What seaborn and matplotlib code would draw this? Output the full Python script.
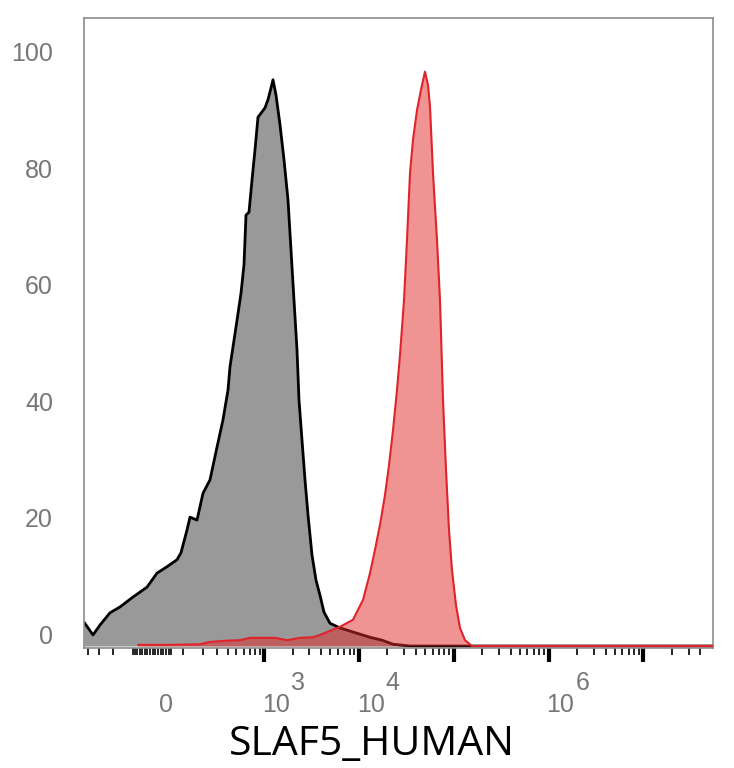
import numpy as np
import matplotlib
matplotlib.use('Agg')
import matplotlib.pyplot as plt
import seaborn as sns

# histograms: display channel (0-629) vs % of mode
ctrl_channel = [0, 9, 16, 26, 36, 49, 63, 73, 83, 93, 97, 103, 106, 113, 119, 126, 133, 139,
                144, 146, 152, 157, 160, 162, 165, 168, 171, 174, 178, 181, 184, 187, 189,
                192, 196, 200, 204, 207, 210, 213, 215, 218, 221, 224, 228, 232, 236, 240,
                246, 256, 269, 286, 298, 309, 326, 629]
ctrl_pct = [4.1, 1.9, 3.6, 5.7, 6.7, 8.4, 10.1, 12.5, 13.6, 14.8, 16.0, 19.9, 22.1, 21.6, 26.2,
            28.5, 34.1, 38.8, 43.9, 47.9, 54.7, 60.5, 65.4, 73.9, 74.4, 79.9, 85.1, 90.7, 91.6,
            92.3, 93.7, 95.7, 97.1, 94.5, 89.4, 83.4, 76.5, 67.9, 59.3, 50.8, 42.2, 35.3, 28.5,
            22.5, 15.6, 11.3, 8.7, 5.8, 3.9, 3.1, 2.4, 1.5, 1.0, 0.3, 0.0, 0.0]

slaf5_channel = [54, 86, 116, 126, 141, 156, 166, 191, 203, 216, 229, 236, 246, 256, 269, 279,
                 286, 291, 296, 301, 305, 309, 313, 316, 320, 323, 326, 329, 333, 337, 341, 344,
                 346, 349, 353, 356, 359, 362, 365, 368, 372, 376, 381, 388, 629]
slaf5_pct = [0.2, 0.2, 0.3, 0.7, 0.9, 1.0, 1.4, 1.4, 1.0, 1.4, 1.5, 1.9, 2.6, 3.3, 4.5, 7.9,
             12.5, 16.5, 20.8, 25.9, 31.0, 37.0, 43.9, 49.9, 59.3, 69.6, 81.1, 86.8, 91.9,
             95.4, 98.5, 96.2, 92.5, 81.1, 69.6, 59.3, 42.2, 30.2, 19.9, 13.0, 7.0, 3.1, 1.0,
             0.0, 0.0]

y_ticks = [0, 20, 40, 60, 80, 100]
major_vals = [1e3, 1e4, 1e5, 1e6, 1e7]
zero_vals = list(range(-100, 51, 10))
minor_vals = ([-400, -300, -200] + list(range(100, 1000, 100))
              + [m * 10 ** k for k in range(3, 7) for m in range(2, 10)]
              + [2e7, 3e7, 4e7])
x_labels = [(0, '0', ''), (1e3, '10', '3'), (1e4, '10', '4'), (1e6, '10', '6')]

# biexponential-like display (asinh)
C0, K, W = 74, 41.2, 153


def to_channel(v):
    return C0 + K * np.arcsinh(np.asarray(v, dtype=float) / W)


sns.set_style('white')
plt.rcParams['font.family'] = ['Liberation Sans', 'DejaVu Sans']

fig = plt.figure(figsize=(7.34, 7.68), dpi=100)
ax = fig.add_axes([84 / 734, 1 - 648 / 768, 629 / 734, 630 / 768])

ax.fill_between(ctrl_channel, ctrl_pct, color='#999999', lw=0, zorder=1)
sns.lineplot(x=ctrl_channel, y=ctrl_pct, color='black', lw=2.0, ax=ax, zorder=2)
ax.fill_between(slaf5_channel, slaf5_pct, color='#e02828', alpha=0.5, lw=0, zorder=3)
sns.lineplot(x=slaf5_channel, y=slaf5_pct, color='#e0232b', lw=1.5, ax=ax, zorder=4)

ax.set_xlim(0, 629)
ax.set_ylim(-0.34, 107.7)
ax.set_xlabel('')
ax.set_ylabel('')

for s in ax.spines.values():
    s.set_color('#8c8c8c')
    s.set_linewidth(1.2)

# x ticks
ax.set_xticks(to_channel(major_vals))
ax.set_xticks(np.concatenate([to_channel(minor_vals), to_channel(zero_vals)]), minor=True)
ax.tick_params(axis='x', which='major', direction='out', length=10, width=3,
               color='black', labelbottom=False, bottom=True)
ax.tick_params(axis='x', which='minor', direction='out', length=5, width=1.2,
               color='black', bottom=True)
ax.set_yticks([])
ax.tick_params(axis='y', left=False)

for v, base, exp in x_labels:
    pos = float(to_channel(v))
    if exp:
        ax.annotate(base, xy=(pos, 0), xycoords=('data', 'axes fraction'), xytext=(12, -57),
                    textcoords='offset pixels', ha='center', va='center', fontsize=18,
                    color='#777777')
        ax.annotate(exp, xy=(pos, 0), xycoords=('data', 'axes fraction'), xytext=(34, -35),
                    textcoords='offset pixels', ha='center', va='center', fontsize=18,
                    color='#777777')
    else:
        ax.annotate(base, xy=(pos, 0), xycoords=('data', 'axes fraction'), xytext=(8, -57),
                    textcoords='offset pixels', ha='center', va='center', fontsize=18,
                    color='#777777')

for v in y_ticks:
    ax.annotate(str(v), xy=(0, v), xycoords=('axes fraction', 'data'), xytext=(-31, 9),
                textcoords='offset pixels', ha='right', va='center', fontsize=18,
                color='#777777')

fig.text(372 / 734, 1 - 745 / 768, 'SLAF5_HUMAN', ha='center', va='center',
         fontsize=29.5, family=['Open Sans', 'DejaVu Sans'], color='black')

fig.savefig('out.png', dpi=100)
